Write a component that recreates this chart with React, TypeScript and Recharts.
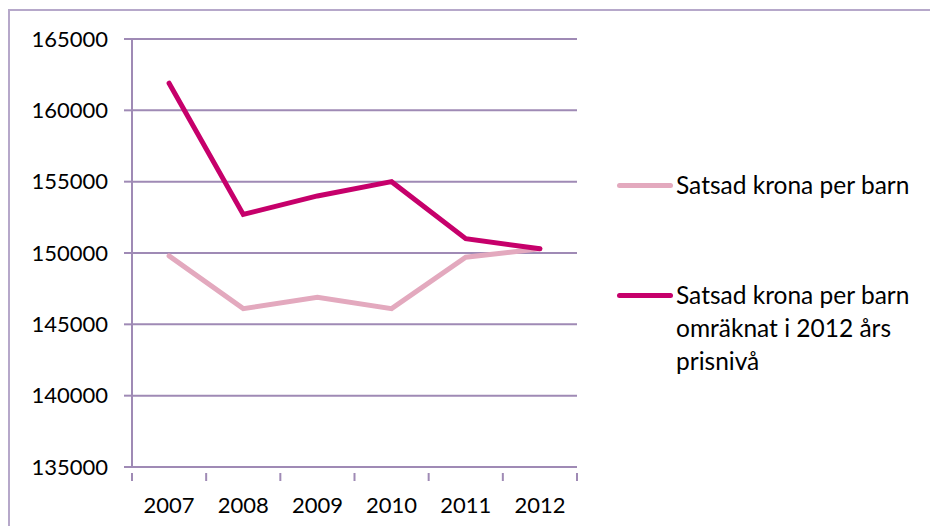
import { ComposedChart, CartesianGrid, Line, XAxis, YAxis } from "recharts";

const years = ["2007", "2008", "2009", "2010", "2011", "2012"];
const perChild = [149800, 146100, 146900, 146100, 149700, 150300];
const perChildAdjusted = [161900, 152700, 154000, 155000, 151000, 150300];
const yTicks = [135000, 140000, 145000, 150000, 155000, 160000, 165000];

const seriesNames = [
  "Satsad krona per barn",
  "Satsad krona per barn omräknat i 2012 års prisnivå",
];

const GRID = "#9F8AB5";
const LIGHT = "#E3A9BE";
const DARK = "#C6006B";
const FONT = "Lato, 'Open Sans', sans-serif";

// category slot i is centred at i + 0.5 on a 0..n scale, so the tick marks
// can sit between the years like in the Excel original
const data = years.map((y, i) => ({
  pos: i + 0.5,
  year: y,
  a: perChild[i],
  b: perChildAdjusted[i],
}));
const xTicks = [0, ...years.flatMap((_, i) => [i + 0.5, i + 1])];

function YearTick(props: any) {
  const { x, y, payload } = props;
  const v = payload.value as number;
  if (Number.isInteger(v)) {
    return <line x1={x} x2={x} y1={y} y2={y + 8} stroke={GRID} strokeWidth={2} />;
  }
  return (
    <text x={x} y={y + 24} dy="0.71em" textAnchor="middle" fontSize={22} fontFamily={FONT} fill="#000">
      {years[Math.floor(v)]}
    </text>
  );
}

function LegendBox() {
  const items = [
    { name: seriesNames[0], color: LIGHT, top: 168 },
    { name: seriesNames[1], color: DARK, top: 278 },
  ];
  return (
    <>
      {items.map((it) => (
        <div
          key={it.name}
          style={{
            position: "absolute",
            left: 617,
            top: it.top,
            width: 310,
            display: "flex",
            alignItems: "flex-start",
            fontFamily: FONT,
            fontSize: 24.5,
            lineHeight: "33px",
            color: "#000",
          }}
        >
          <span
            style={{
              display: "inline-block",
              width: 56,
              height: 5,
              borderRadius: 3,
              background: it.color,
              marginTop: 15,
              marginRight: 3,
              flex: "none",
            }}
          />
          <span style={{ width: 245 }}>{it.name}</span>
        </div>
      ))}
    </>
  );
}

export default function App() {
  return (
    <div style={{ position: "absolute", left: 0, top: 0, width: 930, height: 526, background: "#fff", overflow: "hidden" }}>
      <div
        style={{
          position: "absolute",
          left: 8,
          top: 9,
          width: 940,
          height: 540,
          border: "2px solid #B6A8CA",
        }}
      />
      <ComposedChart
        width={930}
        height={526}
        data={data}
        margin={{ top: 39, right: 353, bottom: 0, left: 0 }}
        style={{ position: "absolute", left: 0, top: 0, fontFamily: FONT }}
      >
        <CartesianGrid horizontal vertical={false} stroke={GRID} strokeWidth={2} />
        <XAxis
          dataKey="pos"
          type="number"
          domain={[0, years.length]}
          ticks={xTicks}
          interval={0}
          tickLine={false}
          axisLine={{ stroke: GRID, strokeWidth: 2 }}
          tick={<YearTick />}
          tickMargin={0}
          height={59}
        />
        <YAxis
          domain={[135000, 165000]}
          ticks={yTicks}
          width={132}
          tickSize={8}
          tickMargin={16}
          tickLine={{ stroke: GRID, strokeWidth: 2 }}
          axisLine={{ stroke: GRID, strokeWidth: 2 }}
          tick={{ fontSize: 22, fill: "#000", fontFamily: FONT }}
          interval={0}
        />
        <Line
          dataKey="a"
          name={seriesNames[0]}
          stroke={LIGHT}
          strokeWidth={5}
          dot={false}
          strokeLinecap="round"
          isAnimationActive={false}
        />
        <Line
          dataKey="b"
          name={seriesNames[1]}
          stroke={DARK}
          strokeWidth={5}
          dot={false}
          strokeLinecap="round"
          isAnimationActive={false}
        />
      </ComposedChart>
      <LegendBox />
    </div>
  );
}
